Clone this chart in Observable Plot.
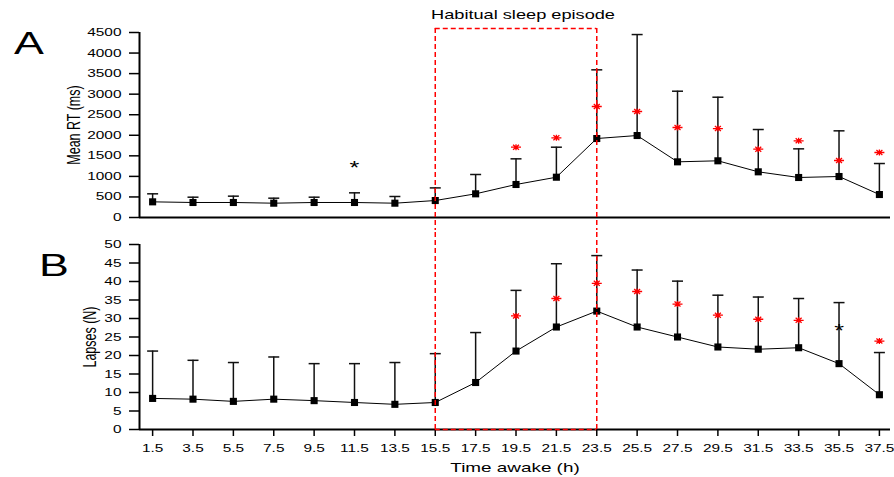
<!DOCTYPE html>
<html><head><meta charset="utf-8">
<script src="https://cdn.jsdelivr.net/npm/d3@7"></script>
<script src="https://cdn.jsdelivr.net/npm/@observablehq/plot@0.6"></script>
<style>
body{margin:0;background:#fff}
#chart{position:relative;width:894px;height:477px;overflow:hidden;background:#fff}
#chart svg{position:absolute;left:0}
</style></head><body><div id="chart"></div>
<script>
// Time points (h awake) — also the x tick labels
const hours = [1.5,3.5,5.5,7.5,9.5,11.5,13.5,15.5,17.5,19.5,21.5,23.5,25.5,27.5,29.5,31.5,33.5,35.5,37.5];
// Panel A: Mean RT (ms)
const rtMean  = [381,365,365,348,365,365,348,413,576,803,980,1921,1994,1354,1379,1111,973,997,559];
const rtUpper = [576,494,519,470,494,600,511,720,1046,1427,1710,3592,4450,3072,2926,2140,1670,2108,1313];
const rtRedStarHours  = [19.5,21.5,23.5,25.5,27.5,29.5,31.5,33.5,35.5,37.5];
const rtRedStarValues = [1710,1938,2700,2578,2189,2164,1661,1865,1386,1581];
const rtBlackStarHours = [11.5];
const rtBlackStarValues = [1305];
const rtTicks = [0,500,1000,1500,2000,2500,3000,3500,4000,4500];
// Panel B: Lapses (N)
const lapMean  = [8.4,8.2,7.6,8.2,7.8,7.3,6.8,7.3,12.7,21.2,27.7,32.0,27.7,25.0,22.3,21.7,22.1,17.8,9.4];
const lapUpper = [21.2,18.7,18.1,19.6,17.8,17.8,18.1,20.5,26.2,37.6,44.8,47.0,43.1,40.1,36.3,35.8,35.4,34.3,20.8];
const lapRedStarHours  = [19.5,21.5,23.5,25.5,27.5,29.5,31.5,33.5,37.5];
const lapRedStarValues = [30.7,35.4,39.5,37.3,33.9,30.9,29.8,29.5,23.9];
const lapBlackStarHours = [35.5];
const lapBlackStarValues = [27.6];
const lapTicks = [0,5,10,15,20,25,30,35,40,45,50];
// Habitual sleep episode
const sleepEpisode = [15.5, 23.5];
const sleepLabel = "Habitual sleep episode";

const xDomain = [0.85, 38.05];
const red = "#ff0000";
const font = "'Liberation Sans', Arial, sans-serif";

const rtData = hours.map((h,i)=>({h, mean: rtMean[i], upper: rtUpper[i]}));
const lapData = hours.map((h,i)=>({h, mean: lapMean[i], upper: lapUpper[i]}));
const rtStars = rtRedStarHours.map((h,i)=>({h, v: rtRedStarValues[i]}));
const lapStars = lapRedStarHours.map((h,i)=>({h, v: lapRedStarValues[i]}));
const rtBlack = rtBlackStarHours.map((h,i)=>({h, v: rtBlackStarValues[i]}));
const lapBlack = lapBlackStarHours.map((h,i)=>({h, v: lapBlackStarValues[i]}));

const capSymbol = {draw(ctx){ctx.moveTo(-5.5,0);ctx.lineTo(5.5,0);}};
const redStarSymbol = {draw(ctx){
  ctx.moveTo(-5,0);ctx.lineTo(5,0);
  ctx.moveTo(0,-3);ctx.lineTo(0,3);
  ctx.moveTo(-3,-2.5);ctx.lineTo(3,2.5);
  ctx.moveTo(-3,2.5);ctx.lineTo(3,-2.5);
}};
const dash = {stroke: red, strokeWidth: 1.5, strokeDasharray: "5,3"};
const centered = {textAnchor: "middle", lineAnchor: "middle"};

function dataMarks(data, stars, black) {
  return [
    Plot.ruleX(data, {x: "h", y1: "mean", y2: "upper", stroke: "#111", strokeWidth: 1.5}),
    Plot.dot(data, {x: "h", y: "upper", symbol: capSymbol, stroke: "#111", strokeWidth: 1.5, fill: "none"}),
    Plot.line(data, {x: "h", y: "mean", stroke: "#000", strokeWidth: 1}),
    Plot.dot(data, {x: "h", y: "mean", symbol: "square", r: 4, fill: "#000", stroke: "none"}),
    Plot.dot(stars, {x: "h", y: "v", symbol: redStarSymbol, stroke: red, strokeWidth: 1.3, fill: "none"}),
    Plot.text(black, {x: "h", y: "v", text: () => "*", fontSize: 18, dy: 4, fill: "#000", ...centered})
  ];
}

const topPlot = Plot.plot({
  width: 894, height: 230, marginLeft: 139, marginRight: 4, marginTop: 32, marginBottom: 13,
  style: {fontFamily: font, fontSize: "11px", color: "black", background: "white"},
  x: {domain: xDomain, axis: null},
  y: {domain: [0, 4500]},
  marks: [
    Plot.axisY({ticks: rtTicks, tickSize: 10, tickPadding: 8, tickFormat: d => String(d), label: null, strokeWidth: 1.5}),
    Plot.ruleX([xDomain[0]], {strokeWidth: 2}),
    Plot.ruleY([0], {strokeWidth: 2}),
    ...dataMarks(rtData, rtStars, rtBlack),
    Plot.ruleX(sleepEpisode, {y1: () => 4600, y2: () => -1500, ...dash}),
    Plot.ruleY([4600], {x1: () => sleepEpisode[0], x2: () => sleepEpisode[1], ...dash}),
    Plot.text([sleepLabel], {x: () => (sleepEpisode[0] + sleepEpisode[1]) / 2, text: d => d, frameAnchor: "top", dy: -18, dx: 7, fontSize: 13, ...centered}),
    Plot.text(["A"], {text: d => d, frameAnchor: "top-left", dx: -110.5, dy: 11, fontSize: 32, ...centered}),
    Plot.text(["Mean RT (ms)"], {text: d => d, frameAnchor: "left", rotate: -90, dx: -65, fontSize: 12.5, ...centered})
  ]
});

const bottomPlot = Plot.plot({
  width: 894, height: 247, marginLeft: 139, marginRight: 4, marginTop: 14, marginBottom: 48,
  style: {fontFamily: font, fontSize: "11px", color: "black", background: "white"},
  x: {domain: xDomain},
  y: {domain: [0, 50]},
  marks: [
    Plot.axisY({ticks: lapTicks, tickSize: 10, tickPadding: 8, tickFormat: d => String(d), label: null, strokeWidth: 1.5}),
    Plot.axisX({ticks: hours, tickSize: 7, tickPadding: 8, tickFormat: d => String(d), label: null, strokeWidth: 1.5}),
    Plot.ruleX([xDomain[0]], {strokeWidth: 2}),
    Plot.ruleY([0], {strokeWidth: 2}),
    ...dataMarks(lapData, lapStars, lapBlack),
    Plot.ruleX(sleepEpisode, {y1: () => 0, y2: () => 80, ...dash}),
    Plot.ruleY([0], {x1: () => sleepEpisode[0], x2: () => sleepEpisode[1], ...dash}),
    Plot.text(["Time awake (h)"], {text: d => d, frameAnchor: "bottom", dy: 38, fontSize: 13.5, ...centered}),
    Plot.text(["B"], {text: d => d, frameAnchor: "top-left", dx: -85.5, dy: 21, fontSize: 32, ...centered}),
    Plot.text(["Lapses (N)"], {text: d => d, frameAnchor: "left", rotate: -90, dx: -49, fontSize: 12.5, ...centered})
  ]
});

// the reference text is rendered horizontally stretched
function stretch(svg, k) {
  svg.querySelectorAll("text").forEach(t => {
    const x = +t.getAttribute("x") || 0, y = +t.getAttribute("y") || 0;
    const tr = t.getAttribute("transform") || "";
    const s = /rotate/.test(tr) ? `scale(1,${k})` : `scale(${k},1)`;
    t.setAttribute("transform", `${tr} translate(${x},${y}) ${s} translate(${-x},${-y})`);
  });
}
stretch(topPlot, 1.4);
stretch(bottomPlot, 1.4);

const chart = document.getElementById("chart");
topPlot.style.top = "0px";
bottomPlot.style.top = "230px";
chart.append(topPlot, bottomPlot);
</script>
</body></html>
